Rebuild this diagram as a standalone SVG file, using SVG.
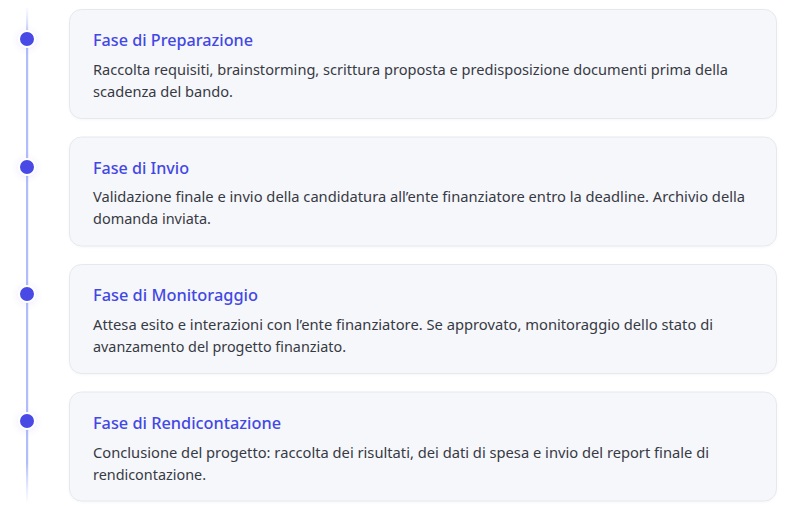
<svg xmlns="http://www.w3.org/2000/svg" width="803" height="509" viewBox="0 0 803 509">
<defs>
<linearGradient id="lineGrad" x1="0" y1="0" x2="0" y2="1">
<stop offset="0" stop-color="#c7d2fe" stop-opacity="0.1"/>
<stop offset="0.06" stop-color="#b1bcfc"/>
<stop offset="0.92" stop-color="#b1bcfc"/>
<stop offset="1" stop-color="#c7d2fe" stop-opacity="0.05"/>
</linearGradient>
<filter id="glow" x="-1" y="-1" width="3" height="3">
<feDropShadow dx="0" dy="1" stdDeviation="3" flood-color="#6366f1" flood-opacity="0.15"/>
</filter>
<filter id="cardShadow" x="-0.05" y="-0.1" width="1.1" height="1.2">
<feDropShadow dx="0" dy="1" stdDeviation="1" flood-color="#000" flood-opacity="0.03"/>
</filter>
</defs>
<style>
.card{fill:#f6f7fb;stroke:#e6e8ee;stroke-width:1}
.title{font-family:"Noto Sans","Open Sans","Liberation Sans",sans-serif;font-size:17px;fill:#4347e4;font-weight:500}
.body{font-family:"Noto Sans","Open Sans","Liberation Sans",sans-serif;font-size:14.8px;fill:#363a44}
.dot{fill:#4849e6;stroke:#ffffff;stroke-width:2}
</style>
<rect width="803" height="509" fill="#ffffff"/>
<g id="connectors">
<rect x="26" y="8" width="2.2" height="494" fill="url(#lineGrad)"/>
</g>
<g id="phase1">
<rect class="card" x="69.5" y="9.5" width="707" height="109" rx="12" filter="url(#cardShadow)"/>
<circle class="dot" cx="27" cy="39" r="8" filter="url(#glow)"/>
<text class="title" x="93" y="46" textLength="160" lengthAdjust="spacingAndGlyphs">Fase di Preparazione</text>
<text class="body" x="93" y="75" textLength="635" lengthAdjust="spacingAndGlyphs">Raccolta requisiti, brainstorming, scrittura proposta e predisposizione documenti prima della</text>
<text class="body" x="93" y="97" textLength="140" lengthAdjust="spacingAndGlyphs">scadenza del bando.</text>
</g>
<g id="phase2">
<rect class="card" x="69.5" y="137" width="707" height="109" rx="12" filter="url(#cardShadow)"/>
<circle class="dot" cx="27" cy="167" r="8" filter="url(#glow)"/>
<text class="title" x="93" y="174" textLength="96" lengthAdjust="spacingAndGlyphs">Fase di Invio</text>
<text class="body" x="93" y="202" textLength="652" lengthAdjust="spacingAndGlyphs">Validazione finale e invio della candidatura all’ente finanziatore entro la deadline. Archivio della</text>
<text class="body" x="93" y="224" textLength="118" lengthAdjust="spacingAndGlyphs">domanda inviata.</text>
</g>
<g id="phase3">
<rect class="card" x="69.5" y="264.5" width="707" height="109" rx="12" filter="url(#cardShadow)"/>
<circle class="dot" cx="27" cy="294" r="8" filter="url(#glow)"/>
<text class="title" x="93" y="301" textLength="165" lengthAdjust="spacingAndGlyphs">Fase di Monitoraggio</text>
<text class="body" x="93" y="330" textLength="620" lengthAdjust="spacingAndGlyphs">Attesa esito e interazioni con l’ente finanziatore. Se approvato, monitoraggio dello stato di</text>
<text class="body" x="93" y="352" textLength="253" lengthAdjust="spacingAndGlyphs">avanzamento del progetto finanziato.</text>
</g>
<g id="phase4">
<rect class="card" x="69.5" y="392" width="707" height="109" rx="12" filter="url(#cardShadow)"/>
<circle class="dot" cx="27" cy="421" r="8" filter="url(#glow)"/>
<text class="title" x="93" y="429" textLength="188" lengthAdjust="spacingAndGlyphs">Fase di Rendicontazione</text>
<text class="body" x="93" y="458" textLength="616" lengthAdjust="spacingAndGlyphs">Conclusione del progetto: raccolta dei risultati, dei dati di spesa e invio del report finale di</text>
<text class="body" x="93" y="480" textLength="113" lengthAdjust="spacingAndGlyphs">rendicontazione.</text>
</g>
</svg>
